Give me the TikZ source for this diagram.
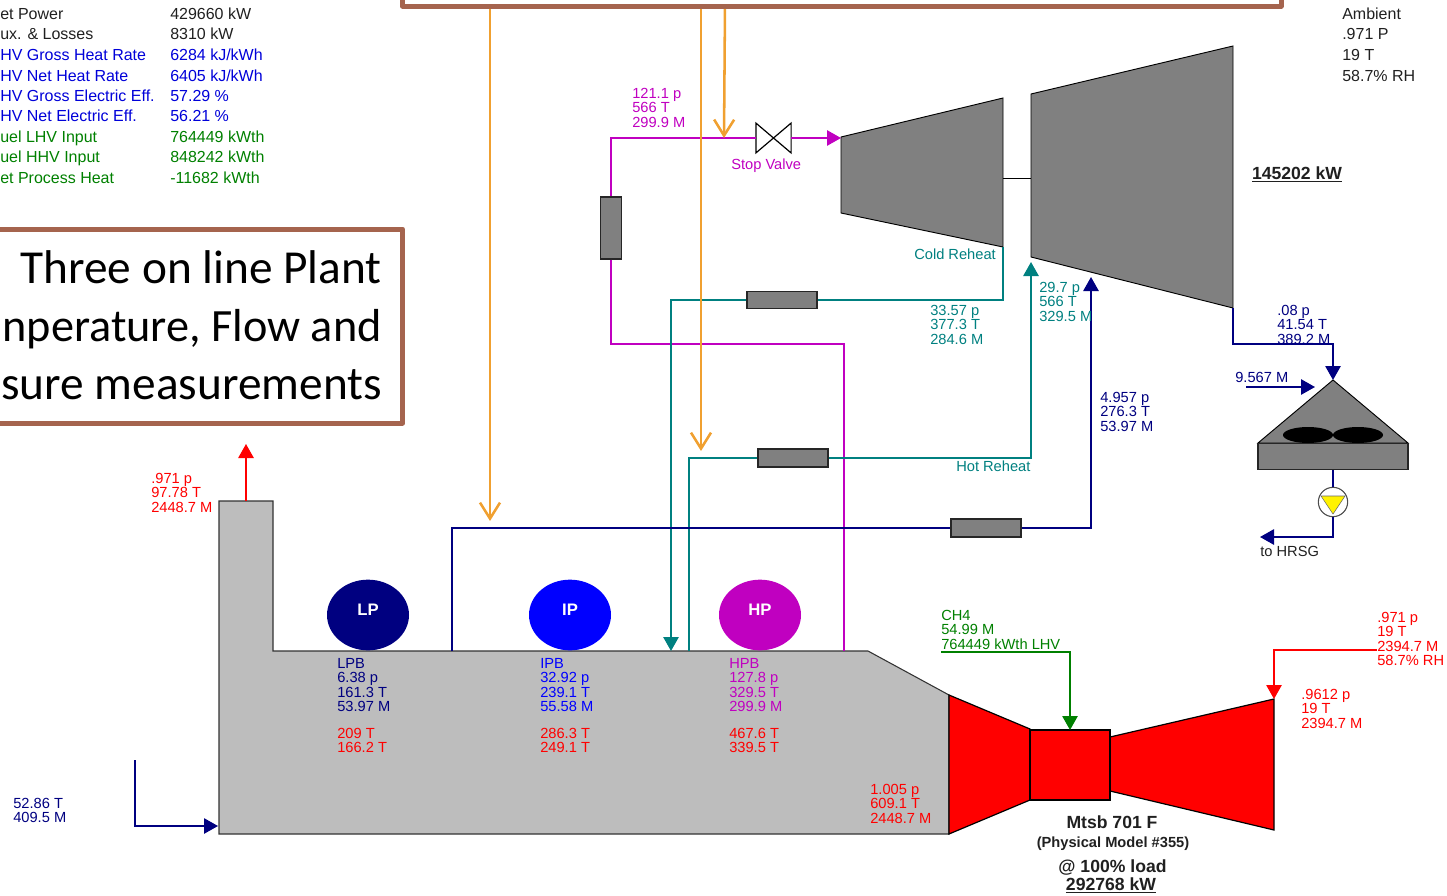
\documentclass[tikz,border=0pt]{standalone}
\usepackage{fontspec}
\setmainfont{Liberation Sans}
\newfontfamily\boxfont{Carlito}
\usetikzlibrary{arrows.meta,shapes.geometric}
\definecolor{cnavy}{HTML}{000080}
\definecolor{cblue}{HTML}{0000FF}
\definecolor{cmag}{HTML}{C000C0}
\definecolor{cteal}{HTML}{008080}
\definecolor{cgreen}{HTML}{008000}
\definecolor{cred}{HTML}{FF0000}
\definecolor{corange}{HTML}{F0A030}
\definecolor{cbrown}{HTML}{A5644E}
\definecolor{cgas}{HTML}{BDBDBD}
\definecolor{cmetal}{HTML}{808080}
\definecolor{ctext}{HTML}{202020}
\tikzset{
  x=0.75pt,y=-0.75pt,
  txt/.style={anchor=north west,inner sep=0pt,align=left,font=\fontsize{11}{10.8}\selectfont},
  tbl/.style={anchor=west,inner sep=0pt,text height=8.5pt,text depth=2pt,font=\fontsize{12}{13}\selectfont},
  ctr/.style={anchor=center,inner sep=0pt,text height=9.5pt,text depth=2pt,text=ctext,font=\bfseries\fontsize{13.2}{14}\selectfont},
  pipe/.style={line width=1.3pt},
  tip/.style={-{Triangle[length=10.5pt,width=11.5pt]}},
  hx/.style={draw=black!85,fill=cmetal,line width=0.9pt,inner sep=0pt,rectangle},
  drum/.style={ellipse,inner sep=0pt,minimum width=61.5pt,minimum height=53pt,text=white,font=\bfseries\fontsize{12.5}{14}\selectfont},
  metal/.style={draw=black,fill=cmetal,line width=0.7pt},
  hot/.style={draw=black,fill=cred,line width=0.9pt},
  steamfeed/.style={corange,line width=1.9pt,-{Straight Barb[length=12pt,width=15pt]}},
  callout/.style={draw=cbrown,line width=3.75pt,fill=white,line join=round},
  calltext/.style={anchor=east,inner sep=0pt,text height=24pt,text depth=7pt,font=\boxfont\fontsize{35.5}{36}\selectfont,text=black},
}
\newcommand{\lab}[5]{\node[txt,text=#4] (#1) at (#2,#3) {#5};}
\newcommand{\hxbox}[5]{\node[hx,minimum width=#4*0.75pt,minimum height=#5*0.75pt] (#1) at (#2,#3) {};}
\newcommand{\row}[5]{\node[tbl,text=#4] (#1a) at (0,#2) {#3}; \node[tbl,text=#4] (#1b) at (170,#2) {#5};}
\begin{document}
\begin{tikzpicture}
\useasboundingbox (0,0) rectangle (1447,896);
\clip (0,0) rectangle (1447,896);

% named points
\coordinate (stackTop) at (246,501);
\coordinate (stackOut) at (246,444);
\coordinate (hpIn) at (841,138);
\coordinate (hpOut) at (1003,247);
\coordinate (ipIn) at (1031,262);
\coordinate (lpIn) at (1091,277);
\coordinate (lpOut) at (1233,308);
\coordinate (cwIn) at (1333,380);
\coordinate (mkStart) at (1246,387);
\coordinate (mkEnd) at (1315,387);
\coordinate (hrsgRet) at (1260,537);
\coordinate (hpDrumIn) at (844,651);
\coordinate (ipDrumOut) at (671,651);
\coordinate (ipDrumIn) at (689,651);
\coordinate (lpDrumOut) at (452,651);
\coordinate (fwA) at (135,760);
\coordinate (fwB) at (218,826);
\coordinate (fuelA) at (941,652);
\coordinate (fuelB) at (1070,730);
\coordinate (airA) at (1377,650);
\coordinate (airB) at (1274,699);
\coordinate (or1a) at (490,5);
\coordinate (or1b) at (490,521);
\coordinate (or2a) at (701,5);
\coordinate (or2b) at (701,451);
\coordinate (or3a) at (725,5);
\coordinate (or3b) at (724,138);
\coordinate (rhA) at (611,344);

% HRSG
\draw[fill=cgas,draw=black!80,line width=0.8pt] (219,501) -- (273,501) -- (273,651) -- (868,651) -- (949,695) -- (949,834) -- (219,834) -- cycle;

% gas turbine
\draw[hot] (949,695) -- (1030,729) -- (1030,800) -- (949,834) -- cycle;
\draw[hot] (1110,737) -- (1274,699) -- (1274,830) -- (1110,791) -- cycle;
\node[hot,rectangle,inner sep=0pt,minimum width=60pt,minimum height=52.5pt] (comb) at (1070,765) {};

% steam turbine
\draw[metal] (841,137) -- (1003,98) -- (1003,247) -- (841,213) -- cycle;
\draw[metal] (1031,94) -- (1233,46) -- (1233,308) -- (1031,257) -- cycle;
\draw[black,line width=0.6pt] (1003,178) -- (1031,178);

% exchangers and drums
\hxbox{hxHP}{611}{228}{21}{62}
\hxbox{hxCold}{782}{300}{70}{17}
\hxbox{hxHot}{793}{458}{70}{18}
\hxbox{hxLP}{986}{528}{70}{18}
\node[drum,fill=cnavy] (drumLP) at (368,615) {\raisebox{8pt}{LP}};
\node[drum,fill=cblue] (drumIP) at (570,615) {\raisebox{8pt}{IP}};
\node[drum,fill=cmag] (drumHP) at (760,615) {\raisebox{8pt}{HP}};

% stop valve
\node[inner sep=0pt,minimum width=26pt,minimum height=22pt] (valve) at (773.5,138) {};
\draw[black,line width=0.9pt,fill=white] (valve.north west) -- (valve.south east) -- (valve.north east) -- (valve.south west) -- cycle;

% condenser and pump
\draw[metal] (1258,443) -- (1333,380) -- (1408,443) -- cycle;
\node[hx,minimum width=112.5pt,minimum height=20pt] (cond) at (1333,456.5) {};
\fill[black] (1308,435) ellipse [x radius=25,y radius=8];
\fill[black] (1358,435) ellipse [x radius=25,y radius=8];
\node[circle,draw=black!70,fill=white,line width=0.8pt,inner sep=0pt,minimum size=22pt] (pump) at (1333,502) {};
\fill[yellow,draw=black!60,line width=0.4pt] (1321,496) -- (1345,496) -- (1333,514) -- cycle;

% magenta main steam
\draw[pipe,cmag] (hxHP.north) |- (valve.west);
\draw[pipe,cmag,tip] (valve.east) -- (hpIn);
\draw[pipe,cmag] (hxHP.south) |- (rhA) -| (hpDrumIn);
% teal reheat
\draw[pipe,cteal] (hpOut) |- (hxCold.east);
\draw[pipe,cteal,tip] (hxCold.west) -| (ipDrumOut);
\draw[pipe,cteal] (ipDrumIn) |- (hxHot.west);
\draw[pipe,cteal,tip] (hxHot.east) -| (ipIn);
% navy LP
\draw[pipe,cnavy] (lpDrumOut) |- (hxLP.west);
\draw[pipe,cnavy,tip] (hxLP.east) -| (lpIn);
\draw[pipe,cnavy,tip] (lpOut) -- (1233,344) -| (cwIn);
\draw[pipe,cnavy,tip] (mkStart) -- (mkEnd);
\draw[pipe,cnavy] (cond.south) -- (pump.north);
\draw[pipe,cnavy,tip] (pump.south) |- (hrsgRet);
\draw[pipe,cnavy,tip] (fwA) |- (fwB);
% fuel, air, stack
\draw[pipe,cgreen,tip] (fuelA) -| (fuelB);
\draw[pipe,cred,tip] (airA) -| (airB);
\draw[pipe,cred,tip] (stackTop) -- (stackOut);

% orange measurement arrows
\draw[steamfeed] (or1a) -- (or1b);
\draw[steamfeed] (or2a) -- (or2b);
\draw[steamfeed] (or3a) -- (or3b);

% callouts
\draw[callout] (402.5,-20) rectangle (1281,6);
\draw[callout] (-20,229) rectangle (402.5,423);
\node[calltext] (call1) at (382,272) {Three on line Plant};
\node[calltext,font=\boxfont\fontsize{34.7}{36}\selectfont] (call2) at (382,330) {nperature, Flow and};
\node[calltext] (call3) at (382,388) {sure measurements};

% performance table
\row{t1}{15}{et Power}{ctext}{429660 kW}
\row{t2}{35}{ux. \& Losses}{ctext}{8310 kW}
\row{t3}{56}{HV Gross Heat Rate}{cblue!85!black}{6284 kJ/kWh}
\row{t4}{77}{HV Net Heat Rate}{cblue!85!black}{6405 kJ/kWh}
\row{t5}{97}{HV Gross Electric Eff.}{cblue!85!black}{57.29 \%}
\row{t6}{117}{HV Net Electric Eff.}{cblue!85!black}{56.21 \%}
\row{t7}{138}{uel LHV Input}{cgreen}{764449 kWth}
\row{t8}{158}{uel HHV Input}{cgreen}{848242 kWth}
\row{t9}{179}{et Process Heat}{cgreen}{-11682 kWth}

% ambient
\node[tbl,text=ctext] (amb1) at (1342,15) {Ambient};
\node[tbl,text=ctext] (amb2) at (1342,35) {.971 P};
\node[tbl,text=ctext] (amb3) at (1342,56) {19 T};
\node[tbl,text=ctext] (amb4) at (1342,77) {58.7\% RH};

% stream labels
\lab{l01}{151}{473}{cred}{.971 p\\97.78 T\\2448.7 M}
\lab{l02}{632}{88}{cmag}{121.1 p\\566 T\\299.9 M}
\lab{l03}{731}{159}{cmag}{Stop Valve}
\lab{l04}{914}{249}{cteal}{Cold Reheat}
\lab{l05}{930}{305}{cteal}{33.57 p\\377.3 T\\284.6 M}
\lab{l06}{1039}{282}{cteal}{29.7 p\\566 T\\329.5 M}
\lab{l07}{1100}{392}{cnavy}{4.957 p\\276.3 T\\53.97 M}
\lab{l08}{956}{461}{cteal}{Hot Reheat}
\lab{l09}{1277}{305}{cnavy}{.08 p\\41.54 T\\389.2 M}
\lab{l10}{1235}{372}{cnavy}{9.567 M}
\lab{l11}{1260}{546}{ctext}{to HRSG}
\lab{l12}{941}{610}{cgreen}{CH4\\54.99 M\\764449 kWth LHV}
\lab{l13}{1377}{612}{cred}{.971 p\\19 T\\2394.7 M\\58.7\% RH}
\lab{l14}{1301}{689}{cred}{.9612 p\\19 T\\2394.7 M}
\lab{l15}{870}{784}{cred}{1.005 p\\609.1 T\\2448.7 M}
\lab{l16}{337}{658}{cnavy}{LPB\\6.38 p\\161.3 T\\53.97 M}
\lab{l17}{540}{658}{cblue}{IPB\\32.92 p\\239.1 T\\55.58 M}
\lab{l18}{729}{658}{cmag}{HPB\\127.8 p\\329.5 T\\299.9 M}
\lab{l19}{337}{728}{cred}{209 T\\166.2 T}
\lab{l20}{540}{728}{cred}{286.3 T\\249.1 T}
\lab{l21}{729}{728}{cred}{467.6 T\\339.5 T}
\lab{l22}{13}{798}{cnavy}{52.86 T\\409.5 M}

% ratings
\node[ctr] (steamKW) at (1297,174) {\underline{145202 kW}};
\node[ctr] (gtName) at (1112,823) {Mtsb 701 F};
\node[ctr,font=\bfseries\fontsize{11}{13}\selectfont] (gtModel) at (1113,842) {(Physical Model \#355)};
\node[ctr] (gtLoad) at (1112.5,867) {@ 100\% load};
\node[ctr] (gtKW) at (1111,885) {\underline{292768 kW}};
\end{tikzpicture}
\end{document}
